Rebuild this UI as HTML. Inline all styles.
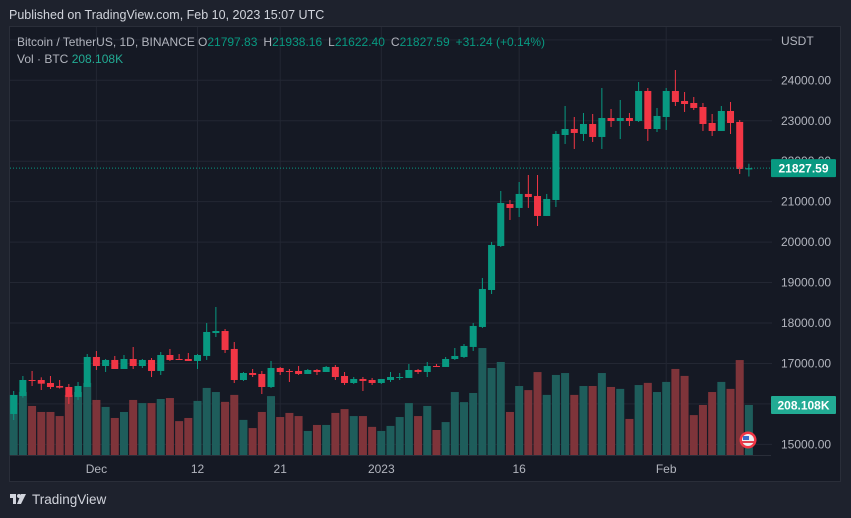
<!DOCTYPE html>
<html><head><meta charset="utf-8"><style>
html,body{margin:0;padding:0;background:#1e222d;width:851px;height:518px;overflow:hidden;font-family:"Liberation Sans",sans-serif}
svg{position:absolute;left:0;top:0}
</style></head><body>
<svg id="c" width="851" height="518">
<rect x="0" y="0" width="851" height="518" fill="#1e222d"/>
<text x="9" y="19" fill="#d1d4dc" font-size="12.5">Published on TradingView.com, Feb 10, 2023 15:07 UTC</text>
<rect x="9.5" y="26.5" width="831" height="455" fill="#151924" stroke="#2a2e39"/>
<g id="grid"></g>
<g id="vols"></g>
<g id="candles"></g>
<g id="axis"></g>
<g id="taxis"></g>
<line x1="10" y1="455.5" x2="771" y2="455.5" stroke="#2a2e39"/>
<g>
<text x="17" y="46" fill="#b2b5be" font-size="12">Bitcoin / TetherUS, 1D, BINANCE</text>
<text x="198" y="46" font-size="12"><tspan fill="#b2b5be">O</tspan><tspan fill="#089981">21797.83</tspan><tspan fill="#b2b5be" dx="6">H</tspan><tspan fill="#089981">21938.16</tspan><tspan fill="#b2b5be" dx="6">L</tspan><tspan fill="#089981">21622.40</tspan><tspan fill="#b2b5be" dx="6">C</tspan><tspan fill="#089981">21827.59</tspan><tspan fill="#089981" dx="6">+31.24 (+0.14%)</tspan></text>
<text x="17" y="63" fill="#b2b5be" font-size="12">Vol · BTC <tspan fill="#22ab94">208.108K</tspan></text>
</g>
<text x="781" y="45" fill="#b2b5be" font-size="12">USDT</text>
<g id="labels"></g>
<g>
<circle cx="748" cy="440" r="8.5" fill="#f23645"/>
<circle cx="748" cy="440" r="6" fill="#eee"/>
<rect x="742" y="441" width="12" height="2" fill="#e04050"/>
<rect x="743" y="436" width="6" height="4" fill="#3b6bc9"/>
</g>
<g>
<rect x="10" y="494" width="6" height="4" fill="#d1d4dc"/><rect x="13" y="494" width="3" height="10" fill="#d1d4dc"/>
<circle cx="19" cy="496" r="2" fill="#d1d4dc"/><polygon points="21,494 26,494 21,504 17,504" fill="#d1d4dc"/>
<text x="32" y="504" fill="#d1d4dc" font-size="13.5">TradingView</text>
</g>
</svg>
<script>
const opens=[15751,16196,16591,16591,16517,16443,16418,16171,16418,17160,16937,17086,16863,17110,16937,17086,16814,17209,17110,17110,17061,17185,17753,17802,17358,16591,16764,16740,16418,16888,16814,16814,16740,16838,16789,16913,16690,16517,16616,16591,16517,16591,16655,16641,16838,16789,16937,16913,17110,17160,17408,17902,18816,19904,20942,20844,21190,21140,20646,21041,22648,22796,22673,22920,22599,23068,22994,23068,22994,23736,22796,23093,23736,23489,23439,23340,22945,22747,23241,22970,21797];
const highs=[16319,16690,16814,16657,16690,16591,16492,16542,17234,17308,17110,17185,17209,17407,17110,17135,17283,17358,17234,17259,17234,17999,18396,17852,17531,16789,16863,16814,17061,16913,16863,16937,16863,16863,16937,16962,16789,16665,16665,16641,16616,16789,16764,16987,16863,17036,16987,17160,17382,17481,18001,19113,20003,21264,21041,21486,21659,21659,21190,22747,23365,23093,23192,23167,23810,23291,23513,23192,23958,23810,23316,23810,24255,23711,23587,23439,23167,23365,23464,23019,21938];
const lows=[15602,16155,16443,16344,16369,16380,15998,16097,16418,16838,16789,16863,16863,16863,16888,16665,16715,17061,17086,17061,16863,17086,17654,17259,16517,16567,16665,16245,16393,16715,16542,16715,16740,16715,16789,16591,16468,16492,16319,16468,16492,16542,16591,16641,16740,16665,16913,16913,17086,17135,17309,17877,18717,19879,20547,20621,20844,20398,20646,20868,22426,22302,22500,22475,22302,22846,22549,22870,22970,22500,22722,22772,23365,23217,23266,22747,22624,22747,22673,21684,21622];
const closes=[16220,16591,16580,16500,16418,16402,16171,16443,17160,16937,17086,16863,17110,16937,17086,16814,17209,17086,17086,17061,17209,17778,17802,17333,16591,16764,16715,16418,16888,16789,16810,16740,16838,16789,16913,16665,16517,16616,16567,16517,16616,16665,16665,16838,16789,16937,16913,17110,17185,17432,17926,18841,19929,20967,20844,21190,21115,20646,21066,22673,22796,22698,22920,22599,23068,22994,23068,22994,23736,22796,23118,23736,23464,23414,23316,22920,22747,23241,22945,21808,21827.59];
const volumes=[250,262,204,179,179,162,250,262,300,229,200,154,179,229,216,216,233,237,141,154,225,279,262,221,250,146,112,179,245,158,175,162,100,125,125,175,191,162,162,117,100,121,158,216,162,204,104,137,262,220,258,445,362,387,179,287,270,345,250,333,341,250,287,287,341,283,275,150,291,300,262,304,358,329,166,208,262,304,275,395,208.108];
const priceTicks=[24000,23000,22000,21000,20000,19000,18000,17000,16000,15000];
const timeLabels=["Dec","12","21","2023","16","Feb"];
const timeLabelIdx=[9,20,29,40,55,71];

const NS="http://www.w3.org/2000/svg";
function el(t,a,p){const e=document.createElementNS(NS,t);for(const k in a)e.setAttribute(k,a[k]);p.appendChild(e);return e;}
const X0=13.7,DX=9.19;
function xs(i){return X0+i*DX;}
function ys(p){return 80.3+(24000-p)*0.04045;}
function yv(v){return 455-v/4.16;}
const G="#089981",R="#f23645";
const grid=document.getElementById('grid');
for(const p of priceTicks.concat([25000])){
  const ln=el('line',{x1:10,x2:772,y1:ys(p),y2:ys(p),stroke:'#232733'},grid);
  
  
}
for(const i of timeLabelIdx){
  const ln=el('line',{x1:xs(i),x2:xs(i),y1:27,y2:455,stroke:'#232733'},grid);
  
  
}
const axis=document.getElementById('axis');
for(const p of priceTicks){
  const t=el('text',{x:781,y:ys(p)+4,fill:'#b2b5be','font-size':12},axis);
  t.textContent=p.toFixed(2);
  
  
}
const tax=document.getElementById('taxis');
timeLabels.forEach((s,k)=>{
  const t=el('text',{x:xs(timeLabelIdx[k]),y:473,fill:'#b2b5be','font-size':12,'text-anchor':'middle'},tax);
  t.textContent=s;
  
  
});
const vg=document.getElementById('vols'),cg=document.getElementById('candles');
for(let i=0;i<opens.length;i++){
  const up=closes[i]>=opens[i];
  const x=xs(i);
  const vb=el('rect',{x:x-4,y:yv(volumes[i]),width:8,height:455-yv(volumes[i]),fill:up?'#1e5d5b':'#7e343a'},vg);
  
  
  const c=up?G:R;
  const w=el('line',{x1:x,x2:x,y1:ys(highs[i]),y2:ys(lows[i]),stroke:c,'stroke-width':1},cg);
  
  
  const top=ys(Math.max(opens[i],closes[i])),bot=ys(Math.min(opens[i],closes[i]));
  const b=el('rect',{x:x-3.5,y:top,width:7,height:Math.max(1,bot-top),fill:c},cg);
  
  
}
const lab=document.getElementById('labels');
const last=closes[closes.length-1];
const dl=el('line',{x1:10,x2:771,y1:ys(last),y2:ys(last),stroke:G,'stroke-dasharray':'1 2'},lab);


const pb=el('rect',{x:771,y:ys(last)-9,width:65,height:18,fill:G,rx:1},lab);


const pt=el('text',{x:803.5,y:ys(last)+4.5,fill:'#fff','font-size':12,'font-weight':'bold','text-anchor':'middle'},lab);
pt.textContent=last.toFixed(2);


const lv=volumes[volumes.length-1];
const vbx=el('rect',{x:771,y:yv(lv)-9,width:65,height:18,fill:'#22ab94',rx:1},lab);


const vt=el('text',{x:803.5,y:yv(lv)+4.5,fill:'#fff','font-size':12,'font-weight':'bold','text-anchor':'middle'},lab);
vt.textContent=lv.toFixed(3)+'K';


</script>
</body></html>
